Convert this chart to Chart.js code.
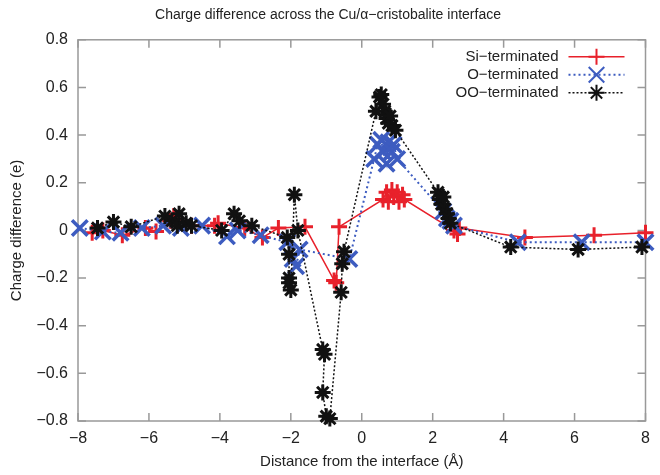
<!DOCTYPE html>
<html>
<head>
<meta charset="utf-8">
<script src="https://cdn.jsdelivr.net/npm/chart.js@4/dist/chart.umd.min.js"></script>
<style>
html, body { margin: 0; padding: 0; background: #fff; }
#wrap { width: 660px; height: 475px; }
</style>
</head>
<body>
<div id="wrap"><canvas id="chart"></canvas></div>
<script>
// Si-terminated (red +)
const siX = [-7.6, -7.3, -6.75, -6.1, -5.8, -5.4, -5.3, -4.8, -4.15, -4.05, -3.3, -2.8, -2.35, -1.6, -0.78, -0.72, -0.64, 0.6, 0.7, 0.75, 0.85, 0.9, 1.0, 1.05, 1.15, 1.2, 2.6, 2.7, 2.75, 4.6, 6.55, 8.0];
const siY = [-0.01, 0.0, -0.02, 0.01, -0.005, 0.04, 0.06, 0.02, 0.02, 0.03, 0.01, -0.03, 0.01, 0.015, -0.21, -0.22, 0.015, 0.13, 0.16, 0.12, 0.17, 0.14, 0.16, 0.12, 0.15, 0.13, 0.0, -0.015, 0.01, -0.03, -0.02, -0.01];

// O-terminated (blue x)
const oX = [-7.95, -7.3, -6.8, -6.2, -5.6, -5.1, -4.5, -3.8, -3.5, -2.85, -2.1, -1.95, -1.85, -1.75, -0.35, 0.35, 0.45, 0.55, 0.6, 0.7, 0.75, 0.85, 0.9, 1.0, 2.3, 2.4, 2.5, 2.6, 4.4, 6.2, 8.0];
const oY = [0.01, -0.005, -0.01, 0.01, 0.02, 0.01, 0.02, -0.025, 0.0, -0.02, -0.05, -0.12, -0.15, -0.08, -0.12, 0.3, 0.36, 0.38, 0.33, 0.28, 0.37, 0.33, 0.36, 0.3, 0.08, 0.05, 0.04, 0.02, -0.05, -0.05, -0.05];

// OO-terminated (black asterisk)
const ooX = [-7.45, -7.0, -6.5, -5.55, -5.35, -5.2, -5.15, -4.95, -4.8, -3.95, -3.6, -3.45, -3.1, -2.1, -2.05, -2.05, -2.05, -2.0, -1.9, -1.8, -1.1, -1.05, -1.1, -1.0, -0.9, -0.58, -0.55, -0.5, 0.4, 0.5, 0.55, 0.6, 0.65, 0.7, 0.75, 0.8, 0.85, 0.95, 2.15, 2.2, 2.25, 2.3, 2.35, 2.4, 2.45, 2.5, 4.2, 6.1, 7.9];
const ooY = [0.01, 0.035, 0.015, 0.06, 0.04, 0.02, 0.07, 0.03, 0.02, 0.0, 0.07, 0.04, 0.02, -0.03, -0.1, -0.2, -0.22, -0.25, 0.15, 0.0, -0.5, -0.52, -0.68, -0.78, -0.79, -0.26, -0.14, -0.09, 0.5, 0.56, 0.57, 0.53, 0.5, 0.47, 0.45, 0.48, 0.44, 0.42, 0.16, 0.13, 0.11, 0.14, 0.09, 0.07, 0.05, 0.03, -0.07, -0.08, -0.07];

const xTicks = [-8, -6, -4, -2, 0, 2, 4, 6, 8];
const yTicks = [-0.8, -0.6, -0.4, -0.2, 0, 0.2, 0.4, 0.6, 0.8];

const FONT = '"Liberation Sans", Arial, Helvetica, sans-serif';
const pts = (xs, ys) => xs.map((x, i) => ({ x: x, y: ys[i] }));
const minus = v => String(v).replace('-', '\u2212');

// gnuplot style frame with inward ticks on all four sides
const frame = {
    id: 'frame',
    beforeDatasetsDraw(chart) {
        const { ctx, chartArea: a, scales } = chart;
        ctx.save();
        ctx.strokeStyle = '#999';
        ctx.lineWidth = 1.5;
        ctx.strokeRect(a.left, a.top, a.right - a.left, a.bottom - a.top);
        ctx.beginPath();
        xTicks.forEach(v => {
            const px = scales.x.getPixelForValue(v);
            ctx.moveTo(px, a.bottom); ctx.lineTo(px, a.bottom - 8);
            ctx.moveTo(px, a.top); ctx.lineTo(px, a.top + 8);
        });
        yTicks.forEach(v => {
            const py = scales.y.getPixelForValue(v);
            ctx.moveTo(a.left, py); ctx.lineTo(a.left + 8, py);
            ctx.moveTo(a.right, py); ctx.lineTo(a.right - 8, py);
        });
        ctx.stroke();
        ctx.restore();
    }
};

// key in the top right corner: text, then line sample with marker
const key = {
    id: 'key',
    afterDraw(chart) {
        const { ctx, chartArea: a } = chart;
        ctx.save();
        ctx.font = '15px ' + FONT;
        ctx.textAlign = 'right';
        ctx.textBaseline = 'middle';
        chart.data.datasets.forEach((ds, i) => {
            const y = a.top + 17 + i * 18;
            const xt = a.right - 87;
            ctx.fillStyle = '#222';
            ctx.fillText(ds.label, xt, y);
            ctx.strokeStyle = ds.borderColor;
            ctx.lineWidth = ds.borderWidth;
            ctx.setLineDash(ds.borderDash || []);
            ctx.beginPath();
            ctx.moveTo(xt + 10, y);
            ctx.lineTo(xt + 66, y);
            ctx.stroke();
            ctx.setLineDash([]);
            ctx.lineWidth = 2;
            Chart.helpers.drawPoint(ctx, { pointStyle: ds.pointStyle, radius: ds.pointRadius, borderWidth: 2, rotation: 0 }, xt + 38, y);
        });
        ctx.restore();
    }
};

new Chart(document.getElementById('chart'), {
    type: 'scatter',
    data: {
        datasets: [
            {
                label: 'Si\u2212terminated',
                data: pts(siX, siY),
                order: 3,
                showLine: true,
                borderColor: '#e8212b',
                backgroundColor: '#e8212b',
                borderWidth: 1.5,
                pointStyle: 'cross',
                pointRadius: 8,
                pointBorderWidth: 3,
                clip: false
            },
            {
                label: 'O\u2212terminated',
                data: pts(oX, oY),
                order: 2,
                showLine: true,
                borderColor: '#3d5cc0',
                backgroundColor: '#3d5cc0',
                borderWidth: 2,
                borderDash: [2, 3],
                pointStyle: 'crossRot',
                pointRadius: 11,
                pointBorderWidth: 3.5,
                clip: false
            },
            {
                label: 'OO\u2212terminated',
                data: pts(ooX, ooY),
                order: 1,
                showLine: true,
                borderColor: '#111',
                backgroundColor: '#111',
                borderWidth: 1.5,
                borderDash: [2, 2],
                pointStyle: 'star',
                pointRadius: 8,
                pointBorderWidth: 3,
                clip: false
            }
        ]
    },
    options: {
        responsive: true,
        maintainAspectRatio: false,
        animation: false,
        layout: { padding: { left: 0, right: 4, top: 0, bottom: 0 } },
        plugins: {
            legend: { display: false },
            tooltip: { enabled: false },
            title: {
                display: true,
                text: 'Charge difference across the Cu/\u03b1\u2212cristobalite interface',
                color: '#222',
                font: { family: FONT, size: 14, weight: 'normal' },
                padding: { top: 7, bottom: 16 }
            }
        },
        scales: {
            x: {
                type: 'linear',
                min: -8,
                max: 8,
                grid: { display: false, drawTicks: false },
                border: { display: false },
                afterBuildTicks: s => { s.ticks = xTicks.map(v => ({ value: v })); },
                afterFit: s => { s.height = 54; s.paddingLeft = 0; s.paddingRight = 0; },
                ticks: {
                    padding: 8,
                    color: '#222',
                    font: { family: FONT, size: 16 },
                    maxRotation: 0,
                    callback: v => minus(v)
                },
                title: {
                    display: true,
                    text: 'Distance from the interface (\u00c5)',
                    color: '#222',
                    font: { family: FONT, size: 15 },
                    padding: { top: 0, bottom: 4 }
                }
            },
            y: {
                type: 'linear',
                min: -0.8,
                max: 0.8,
                grid: { display: false, drawTicks: false },
                border: { display: false },
                afterBuildTicks: s => { s.ticks = yTicks.map(v => ({ value: v })); },
                afterFit: s => { s.width = 78; },
                ticks: {
                    padding: 10,
                    color: '#222',
                    font: { family: FONT, size: 16 },
                    callback: v => minus(Math.round(v * 10) / 10)
                },
                title: {
                    display: true,
                    text: 'Charge difference (e)',
                    color: '#222',
                    font: { family: FONT, size: 15 },
                    padding: { top: 8, bottom: 0 }
                }
            }
        }
    },
    plugins: [frame, key]
});
</script>
</body>
</html>
